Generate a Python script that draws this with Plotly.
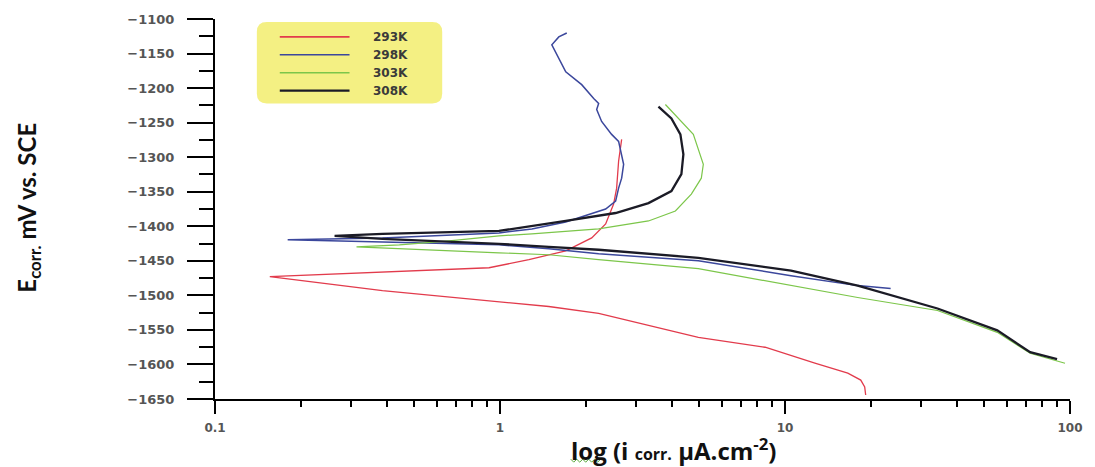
import plotly.graph_objects as go

# ---------------- data ----------------
series_names = ["293K", "298K", "303K", "308K"]
series_colors = ["#e23b4c", "#3b479c", "#7cc64a", "#1b1b26"]
series_widths = [1.3, 1.5, 1.2, 2.3]

i_293 = [19.19, 19.04, 18.44, 16.61, 12.73, 8.514, 4.965, 2.219, 1.483, 0.3868, 0.1557,
         0.9152, 1.263, 1.701, 2.098, 2.348, 2.504, 2.566, 2.607, 2.672]
e_293 = [-1644.2, -1632.7, -1622.6, -1612.6, -1598.2, -1575.1, -1560.7, -1526.2, -1516.1, -1493.1, -1472.9,
         -1460.0, -1448.4, -1435.5, -1416.8, -1396.6, -1367.8, -1344.8, -1305.9, -1274.2]

i_298 = [23.48, 17.99, 10.50, 4.965, 2.219, 1.483, 0.992, 0.3868, 0.1799,
         0.3868, 0.6633, 0.992, 1.294, 1.701, 2.348, 2.545, 2.607, 2.672, 2.715, 2.649,
         2.607, 2.464, 2.273, 2.184, 2.219, 2.132, 1.935, 1.701, 1.582, 1.520, 1.608, 1.715]
e_298 = [-1490.2, -1485.9, -1471.5, -1449.9, -1439.8, -1432.6, -1426.8, -1422.5, -1419.6,
         -1416.8, -1412.4, -1409.6, -1403.8, -1393.7, -1375.0, -1363.5, -1344.8, -1330.4, -1310.2, -1287.2,
         -1277.1, -1267.0, -1248.3, -1231.0, -1222.4, -1215.2, -1195.0, -1176.3, -1151.8, -1137.4, -1125.9, -1120.2]

i_303 = [96.05, 72.46, 55.56, 34.28, 17.99, 10.50, 4.965, 2.219, 1.483, 0.992, 0.4434, 0.3137,
         0.4434, 0.6633, 0.992, 1.294, 2.219, 3.319, 4.125, 4.692, 5.086, 5.169, 4.768, 4.226, 3.805]
e_303 = [-1598.2, -1583.8, -1553.5, -1521.9, -1503.1, -1485.9, -1461.4, -1448.4, -1441.2, -1438.4, -1432.6, -1429.7,
         -1426.8, -1421.1, -1413.9, -1411.0, -1403.8, -1392.3, -1377.9, -1353.4, -1330.4, -1310.2, -1267.0, -1244.0, -1223.8]

i_308 = [90.07, 72.46, 55.56, 34.28, 17.99, 10.50, 4.965, 2.219, 1.483, 0.992, 0.3868, 0.2628,
         0.3868, 0.6633, 0.992, 1.701, 2.545, 3.319, 3.994, 4.330, 4.400, 4.295, 3.994, 3.597]
e_308 = [-1592.4, -1582.3, -1550.7, -1519.0, -1485.9, -1464.3, -1445.6, -1434.0, -1429.7, -1425.4, -1418.2, -1413.9,
         -1411.0, -1408.1, -1406.7, -1392.3, -1380.8, -1366.4, -1349.1, -1324.6, -1295.8, -1267.0, -1244.0, -1226.7]

x_tick_vals = [0.1, 1, 10, 100]
x_tick_text = ["0.1", "1", "10", "100"]
y_tick_vals = [-1100, -1150, -1200, -1250, -1300, -1350, -1400, -1450, -1500, -1550, -1600, -1650]

xs = [i_293, i_298, i_303, i_308]
ys = [e_293, e_298, e_303, e_308]

# ---------------- figure ----------------
fig = go.Figure()
for name, x, y, c, w in zip(series_names, xs, ys, series_colors, series_widths):
    fig.add_trace(go.Scatter(x=x, y=y, mode="lines", name=name,
                             line=dict(color=c, width=w), showlegend=False))

# plot-area geometry helpers (pixels -> paper)
L, R, T, B = 215, 1073, 17, 399
def px(xp):
    return (xp - L) / (R - L)
def py(yp):
    return (B - yp) / (B - T)

shapes = []
annotations = []

# legend box (rounded yellow)
x0, x1, y0, y1 = px(257), px(443), py(102), py(20)
rx, ry = 10 / (R - L), 10 / (B - T)
path = (f"M {x0+rx},{y1} L {x1-rx},{y1} Q {x1},{y1} {x1},{y1-ry} "
        f"L {x1},{y0+ry} Q {x1},{y0} {x1-rx},{y0} L {x0+rx},{y0} "
        f"Q {x0},{y0} {x0},{y0+ry} L {x0},{y1-ry} Q {x0},{y1} {x0+rx},{y1} Z")
shapes.append(dict(type="path", xref="paper", yref="paper", path=path,
                   fillcolor="#f4f083", line=dict(width=0), layer="below"))
rows = [35, 53, 71, 89]
for name, c, w, r in zip(series_names, series_colors, series_widths, rows):
    shapes.append(dict(type="line", xref="paper", yref="paper",
                       x0=px(280), x1=px(350), y0=py(r), y1=py(r),
                       line=dict(color=c, width=max(w, 1.6))))
    annotations.append(dict(xref="paper", yref="paper", x=px(372), y=py(r),
                            xanchor="left", yanchor="middle", showarrow=False,
                            text="<b>" + name + "</b>",
                            font=dict(family="DejaVu Sans", size=12, color="#3a3a3a")))

# axis titles
annotations.append(dict(xref="paper", yref="paper", x=px(27), y=py(207),
                        xanchor="center", yanchor="middle", showarrow=False, textangle=-90,
                        text="<b>E<sub>corr.</sub> mV vs. SCE</b>",
                        font=dict(family="Lato", size=24, color="#111111")))
annotations.append(dict(xref="paper", yref="paper", x=px(570), y=py(450),
                        xanchor="left", yanchor="middle", showarrow=False,
                        text="<b>log (i <span style='font-size:16px'>corr.</span> µA.cm<sup>-2</sup>)</b>",
                        font=dict(family="Open Sans", size=24, color="#111111")))

# green spell-check squiggle under "log"
zz = "M " + " L ".join(f"{px(572 + 3*k)},{py(461 + (1.5 if k % 2 else -1.5))}" for k in range(11))
shapes.append(dict(type="path", xref="paper", yref="paper", path=zz,
                   line=dict(color="#5aa83a", width=1)))

fig.update_layout(
    width=1095, height=467, autosize=False,
    margin=dict(l=L, r=1095 - R, t=T, b=467 - B),
    paper_bgcolor="white", plot_bgcolor="white",
    shapes=shapes, annotations=annotations,
    showlegend=False,
)
fig.update_xaxes(
    type="log", range=[-1, 2], showgrid=False, zeroline=False,
    showline=True, linecolor="black", linewidth=2,
    tickmode="array", tickvals=x_tick_vals, ticktext=x_tick_text,
    ticks="outside", ticklen=13, tickwidth=2, tickcolor="black",
    ticklabelstandoff=4,
    tickfont=dict(family="DejaVu Sans", size=12, color="#555555", weight="bold"),
    minor=dict(ticks="outside", ticklen=6, tickwidth=2, tickcolor="black", dtick="D1"),
)
fig.update_yaxes(
    range=[-1650, -1100], showgrid=False, zeroline=False,
    showline=True, linecolor="black", linewidth=2,
    tickmode="array", tickvals=y_tick_vals,
    ticks="outside", ticklen=26, tickwidth=2, tickcolor="black",
    ticklabelstandoff=10,
    tickfont=dict(family="DejaVu Sans", size=13, color="#555555", weight="bold"),
    minor=dict(ticks="outside", ticklen=14, tickwidth=2, tickcolor="black", dtick=25),
)

fig.write_html("out.html")
